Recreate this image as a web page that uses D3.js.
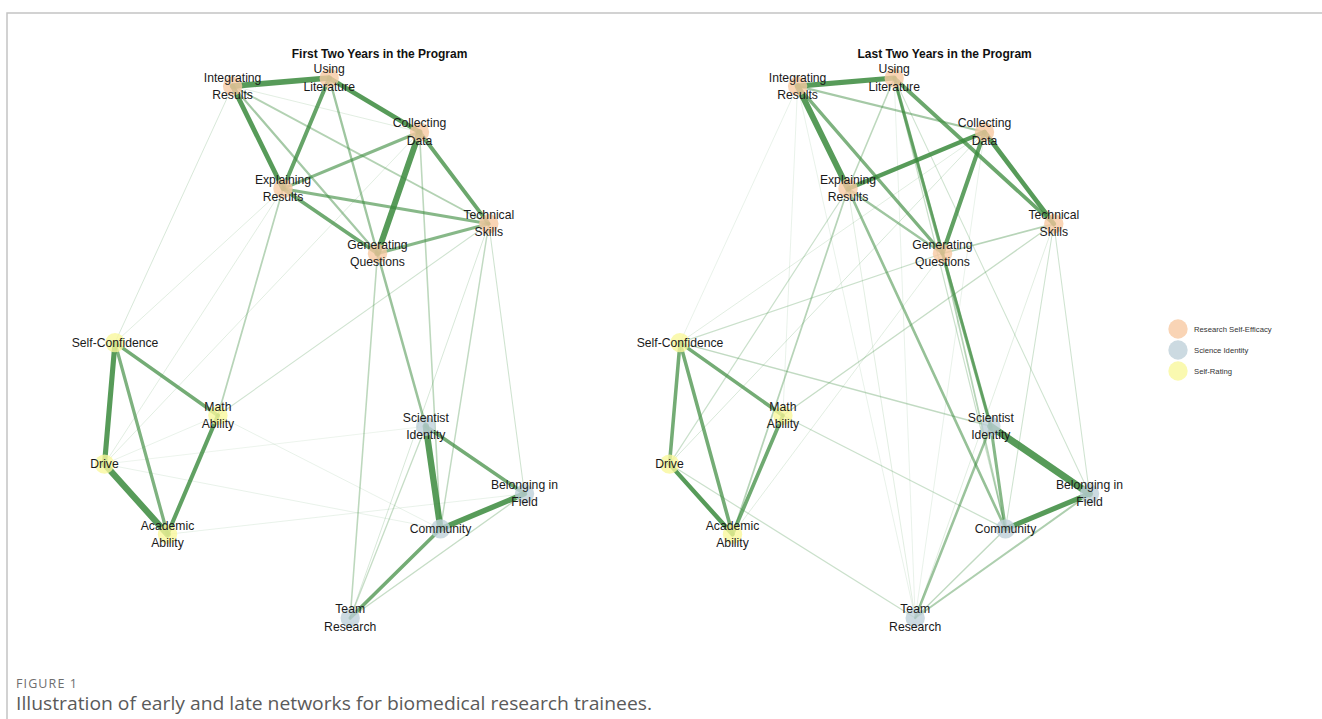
<!DOCTYPE html>
<html>
<head>
<meta charset="utf-8">
<script src="https://cdn.jsdelivr.net/npm/d3@7"></script>
<style>
  html, body { margin: 0; padding: 0; background: #fff; }
  svg { display: block; }
</style>
</head>
<body>
<svg id="chart" width="1322" height="719"></svg>
<script>
// node ids, labels, groups and the shared (averaged) layout, in [-1, 1]
const nodeIds = ["IntRes", "UsingLit", "Coll", "ExpRes", "Tech", "GenQ", "SelfConf",
  "Math", "Drive", "Acad", "SciId", "Belong", "Comm", "Team"];
const nodeLabels = ["Integrating\nResults", "Using\nLiterature", "Collecting\nData",
  "Explaining\nResults", "Technical\nSkills", "Generating\nQuestions", "Self-Confidence",
  "Math\nAbility", "Drive", "Academic\nAbility", "Scientist\nIdentity", "Belonging in\nField",
  "Community", "Team\nResearch"];
const nodeGroups = ["Research Self-Efficacy", "Research Self-Efficacy", "Research Self-Efficacy",
  "Research Self-Efficacy", "Research Self-Efficacy", "Research Self-Efficacy", "Self-Rating",
  "Self-Rating", "Self-Rating", "Self-Rating", "Science Identity", "Science Identity",
  "Science Identity", "Science Identity"];
const layoutX = [-0.39, 0.07, 0.50, -0.15, 0.83, 0.30, -0.95, -0.46, -1.00, -0.70, 0.53, 1.00, 0.60, 0.17];
const layoutY = [0.97, 1.00, 0.80, 0.59, 0.46, 0.35, 0.02, -0.25, -0.43, -0.69, -0.29, -0.54, -0.67, -1.00];

const groups = ["Research Self-Efficacy", "Science Identity", "Self-Rating"];
const groupColors = ["#f8c9a3", "#bfd1da", "#f9f89c"];

// partial correlation weights, first two years
const edgesEarly = [
  ["IntRes", "UsingLit", 0.40], ["UsingLit", "Coll", 0.32], ["IntRes", "ExpRes", 0.33],
  ["UsingLit", "ExpRes", 0.27], ["Coll", "GenQ", 0.42], ["Coll", "Tech", 0.26],
  ["ExpRes", "GenQ", 0.25], ["ExpRes", "Tech", 0.20], ["Coll", "ExpRes", 0.20],
  ["GenQ", "Tech", 0.20], ["IntRes", "GenQ", 0.14], ["IntRes", "Tech", 0.11],
  ["UsingLit", "GenQ", 0.15], ["IntRes", "Coll", 0.03], ["IntRes", "SelfConf", 0.04],
  ["ExpRes", "SelfConf", 0.03], ["ExpRes", "Drive", 0.03], ["ExpRes", "Math", 0.10],
  ["Coll", "Drive", 0.03], ["Coll", "Comm", 0.09], ["Tech", "Math", 0.05],
  ["Tech", "Comm", 0.08], ["Tech", "Belong", 0.05], ["Tech", "Team", 0.04],
  ["GenQ", "Team", 0.09], ["GenQ", "SciId", 0.16], ["SciId", "Team", 0.07],
  ["SciId", "Comm", 0.45], ["SciId", "Belong", 0.24], ["Comm", "Belong", 0.38],
  ["Comm", "Team", 0.24], ["Belong", "Team", 0.07], ["SelfConf", "Drive", 0.36],
  ["SelfConf", "Acad", 0.22], ["SelfConf", "Math", 0.24], ["Drive", "Acad", 0.45],
  ["Math", "Acad", 0.28], ["Drive", "Comm", 0.02], ["Acad", "Belong", 0.02],
  ["Math", "Comm", 0.02], ["Drive", "SciId", 0.015], ["Drive", "Math", 0.02]
];

// partial correlation weights, last two years
const edgesLate = [
  ["IntRes", "UsingLit", 0.36], ["IntRes", "ExpRes", 0.42], ["IntRes", "GenQ", 0.22],
  ["IntRes", "Coll", 0.14], ["UsingLit", "Tech", 0.26], ["UsingLit", "GenQ", 0.22],
  ["UsingLit", "ExpRes", 0.09], ["UsingLit", "SciId", 0.14], ["UsingLit", "Comm", 0.06],
  ["UsingLit", "Belong", 0.05], ["UsingLit", "Team", 0.02], ["Coll", "ExpRes", 0.30],
  ["Coll", "GenQ", 0.28], ["Coll", "Tech", 0.32], ["Coll", "Team", 0.02],
  ["ExpRes", "GenQ", 0.15], ["ExpRes", "Comm", 0.17], ["ExpRes", "Drive", 0.06],
  ["ExpRes", "Acad", 0.10], ["ExpRes", "Team", 0.03], ["GenQ", "Tech", 0.10],
  ["GenQ", "SciId", 0.22], ["GenQ", "Comm", 0.10], ["GenQ", "SelfConf", 0.06],
  ["GenQ", "Acad", 0.03], ["Tech", "Math", 0.07], ["Tech", "Comm", 0.05],
  ["Tech", "Belong", 0.05], ["Tech", "Team", 0.03], ["SelfConf", "Drive", 0.24],
  ["SelfConf", "Acad", 0.24], ["SelfConf", "Math", 0.24], ["SelfConf", "SciId", 0.08],
  ["SelfConf", "IntRes", 0.02], ["SelfConf", "Coll", 0.03], ["Drive", "Acad", 0.30],
  ["Drive", "Team", 0.06], ["Drive", "Coll", 0.04], ["Math", "Acad", 0.25],
  ["Math", "Comm", 0.06], ["SciId", "Belong", 0.52], ["SciId", "Comm", 0.20],
  ["SciId", "Team", 0.16], ["Comm", "Belong", 0.36], ["Comm", "Team", 0.08],
  ["Belong", "Team", 0.12], ["IntRes", "Team", 0.02], ["IntRes", "Math", 0.02]
];

const panels = [
  { title: "First Two Years in the Program", edges: edgesEarly, x0: 104.5 },
  { title: "Last Two Years in the Program", edges: edgesLate, x0: 669.5 }
];

const svg = d3.select("#chart");
const font = "'Liberation Sans', Arial, sans-serif";

// frame
svg.append("path")
  .attr("d", "M7,719 V13 H1322")
  .attr("fill", "none")
  .attr("stroke", "#c4c4c4")
  .attr("stroke-width", 1.5);

const y = d3.scaleLinear().domain([-1, 1]).range([618, 78]);
const color = d3.scaleOrdinal().domain(groups).range(groupColors);
const width = d3.scaleLinear().domain([0, 0.5]).range([0.4, 7]).clamp(true);
const alpha = d3.scaleLinear().domain([0, 0.3]).range([0.12, 0.85]).clamp(true);

const nodes = nodeIds.map((id, i) => ({
  id, label: nodeLabels[i], group: nodeGroups[i], lx: layoutX[i], ly: layoutY[i]
}));
const byId = new Map(nodes.map(n => [n.id, n]));

function drawNetwork(p) {
  const x = d3.scaleLinear().domain([-1, 1]).range([p.x0, p.x0 + 420]);
  const g = svg.append("g");

  const edges = p.edges.slice().sort((a, b) => a[2] - b[2]);
  g.append("g").selectAll("line")
    .data(edges)
    .join("line")
    .attr("x1", d => x(byId.get(d[0]).lx))
    .attr("y1", d => y(byId.get(d[0]).ly))
    .attr("x2", d => x(byId.get(d[1]).lx))
    .attr("y2", d => y(byId.get(d[1]).ly))
    .attr("stroke", "#3a8a3c")
    .attr("stroke-opacity", d => alpha(d[2]))
    .attr("stroke-width", d => width(d[2]))
    .attr("stroke-linecap", "round");

  g.append("g").selectAll("circle")
    .data(nodes)
    .join("circle")
    .attr("cx", d => x(d.lx))
    .attr("cy", d => y(d.ly))
    .attr("r", 9.7)
    .attr("fill", d => color(d.group))
    .attr("fill-opacity", 0.8);

  const lab = g.append("g").selectAll("text")
    .data(nodes)
    .join("text")
    .attr("x", d => x(d.lx))
    .attr("y", d => y(d.ly))
    .attr("text-anchor", "middle")
    .attr("font-family", font)
    .attr("font-size", "12.2px")
    .attr("fill", "#1a1a1a");
  lab.each(function(d) {
    const lines = d.label.split("\n");
    const t = d3.select(this);
    lines.forEach((s, i) => {
      const off = lines.length === 1 ? 4.3 : (i === 0 ? -4.6 : 12.6);
      t.append("tspan").attr("x", x(d.lx)).attr("y", y(d.ly) + off).text(s);
    });
  });

  g.append("text")
    .attr("x", x(0.31))
    .attr("y", 58)
    .attr("text-anchor", "middle")
    .attr("font-family", font)
    .attr("font-size", "12px")
    .attr("font-weight", "bold")
    .attr("fill", "#111")
    .text(p.title);
}

panels.forEach(drawNetwork);

// legend
const leg = svg.append("g").attr("transform", "translate(1178,329)");
leg.selectAll("circle")
  .data(groups)
  .join("circle")
  .attr("cx", 0)
  .attr("cy", (d, i) => i * 21)
  .attr("r", 9.7)
  .attr("fill", d => color(d))
  .attr("fill-opacity", 0.8);
leg.selectAll("text")
  .data(groups)
  .join("text")
  .attr("x", 16)
  .attr("y", (d, i) => i * 21 + 2.7)
  .attr("font-family", font)
  .attr("font-size", "7.7px")
  .attr("fill", "#333")
  .text(d => d);

// caption
svg.append("text")
  .attr("x", 16)
  .attr("y", 687.5)
  .attr("font-family", "'Open Sans', Lato, sans-serif")
  .attr("font-size", "12.5px")
  .attr("fill", "#6e6e6e")
  .attr("textLength", 61)
  .attr("lengthAdjust", "spacing")
  .text("FIGURE 1");
svg.append("text")
  .attr("x", 16)
  .attr("y", 710)
  .attr("font-family", "'Open Sans', Lato, sans-serif")
  .attr("font-size", "17.5px")
  .attr("fill", "#5a5a5a")
  .attr("textLength", 636)
  .attr("lengthAdjust", "spacingAndGlyphs")
  .text("Illustration of early and late networks for biomedical research trainees.");
</script>
</body>
</html>
